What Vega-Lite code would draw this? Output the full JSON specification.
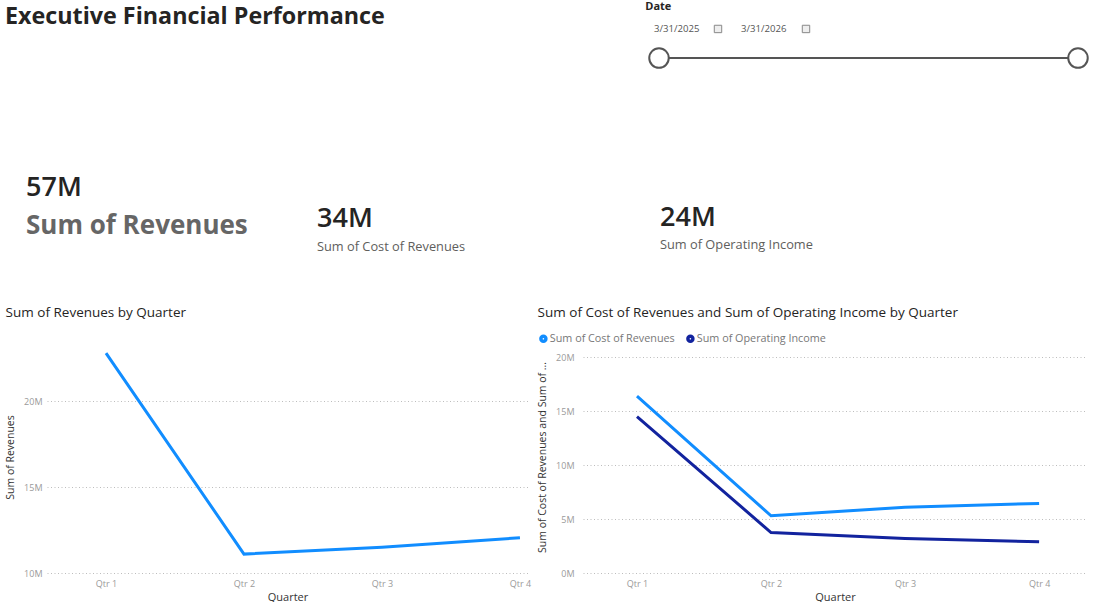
{
  "$schema": "https://vega.github.io/schema/vega-lite/v6.json",
  "background": "white",
  "padding": {"left": 5, "top": 1, "right": 0, "bottom": 0},
  "columns": 1,
  "align": "none",
  "spacing": 20,
  "resolve": {"scale": {"color": "independent"}, "legend": {"color": "independent"}},
  "config": {
    "view": {"stroke": null},
    "font": "Open Sans",
    "title": {"font": "Open Sans", "color": "#252423"},
    "axis": {
      "domain": false,
      "ticks": false,
      "labelFont": "Open Sans",
      "labelFontSize": 9,
      "labelColor": "#9a9a9a",
      "titleFont": "Open Sans",
      "titleFontWeight": "normal",
      "titleColor": "#333333",
      "gridColor": "#bdbdbd",
      "gridDash": [1, 2.5],
      "gridWidth": 1
    }
  },
  "datasets": {
    "quarters": [
      {"Quarter": "Qtr 1", "Revenues": 22800000, "Cost of Revenues": 16400000, "Operating Income": 14500000},
      {"Quarter": "Qtr 2", "Revenues": 11100000, "Cost of Revenues": 5300000, "Operating Income": 3750000},
      {"Quarter": "Qtr 3", "Revenues": 11500000, "Cost of Revenues": 6100000, "Operating Income": 3200000},
      {"Quarter": "Qtr 4", "Revenues": 12050000, "Cost of Revenues": 6450000, "Operating Income": 2900000}
    ],
    "dates": [{"Date": "2025-03-31"}, {"Date": "2026-03-31"}],
    "boxes": [{"Box": "start", "Label": "3/31/2025"}, {"Box": "end", "Label": "3/31/2026"}]
  },
  "concat": [
    {
      "spacing": 0,
      "hconcat": [
        {
          "width": 598,
          "height": 1,
          "title": {"text": "Executive Financial Performance", "orient": "bottom", "anchor": "start", "fontSize": 23.3, "fontWeight": "bold", "offset": -10, "dx": -42},
          "data": {"values": []},
          "mark": "text"
        },
        {
          "width": 445,
          "height": 57,
          "title": {"text": "Date", "anchor": "start", "fontSize": 11, "fontWeight": "bold", "offset": 3},
          "resolve": {"scale": {"x": "independent"}},
          "layer": [
            {
              "data": {"name": "dates"},
              "mark": {"type": "rule", "color": "#555555", "strokeWidth": 2},
              "encoding": {
                "x": {"aggregate": "min", "field": "Date", "type": "temporal", "scale": {"nice": false, "padding": 13}, "axis": null},
                "x2": {"aggregate": "max", "field": "Date"},
                "y": {"datum": "slider", "type": "nominal", "scale": {"type": "point", "domain": ["boxes", "slider"], "padding": 0.48}, "axis": null}
              }
            },
            {
              "data": {"name": "dates"},
              "mark": {"type": "point", "shape": "circle", "filled": true, "fill": "white", "stroke": "#555555", "strokeWidth": 2, "size": 380, "opacity": 1},
              "encoding": {
                "x": {"field": "Date", "type": "temporal", "scale": {"nice": false, "padding": 13}, "axis": null},
                "y": {"datum": "slider", "type": "nominal"}
              }
            },
            {
              "data": {"name": "boxes"},
              "mark": {"type": "text", "align": "left", "baseline": "middle", "fontSize": 9.6, "color": "#555555"},
              "encoding": {
                "x": {"field": "Box", "type": "nominal", "scale": {"type": "point", "domain": ["start", "end"], "range": [8, 95], "padding": 0}, "axis": null},
                "y": {"datum": "boxes", "type": "nominal"},
                "text": {"field": "Label"}
              }
            },
            {
              "data": {"name": "boxes"},
              "mark": {"type": "point", "shape": "square", "filled": true, "fill": "#eeeeee", "stroke": "#888888", "strokeWidth": 1, "size": 55, "opacity": 1},
              "encoding": {
                "x": {"field": "Box", "type": "nominal", "scale": {"type": "point", "domain": ["start", "end"], "range": [72, 160], "padding": 0}, "axis": null},
                "y": {"datum": "boxes", "type": "nominal"}
              }
            }
          ]
        }
      ]
    },
    {
      "spacing": 0,
      "hconcat": [
        {
          "width": 258,
          "height": 193,
          "layer": [
            {
              "data": {"name": "quarters"},
              "transform": [{"aggregate": [{"op": "sum", "field": "Revenues", "as": "TotalRevenues"}]}],
              "mark": {"type": "text", "align": "left", "baseline": "middle", "fontSize": 27, "fontWeight": 600, "color": "#252423"},
              "encoding": {
                "x": {"datum": "text", "type": "nominal", "scale": {"type": "point", "range": [-21, -21], "padding": 0}, "axis": null},
                "y": {"datum": "value", "type": "nominal", "scale": {"type": "point", "domain": ["value", "label"], "range": [96, 134], "padding": 0}, "axis": null},
                "text": {"field": "TotalRevenues", "type": "quantitative", "format": ".2s"}
              }
            },
            {
              "data": {"values": [{"Label": "Sum of Revenues"}]},
              "mark": {"type": "text", "align": "left", "baseline": "middle", "fontSize": 26, "fontWeight": "bold", "color": "#666666"},
              "encoding": {
                "x": {"datum": "text", "type": "nominal"},
                "y": {"datum": "label", "type": "nominal"},
                "text": {"field": "Label"}
              }
            }
          ]
        },
        {
          "width": 343,
          "height": 193,
          "layer": [
            {
              "data": {"name": "quarters"},
              "transform": [{"aggregate": [{"op": "sum", "field": "Cost of Revenues", "as": "TotalCost"}]}],
              "mark": {"type": "text", "align": "left", "baseline": "middle", "fontSize": 27, "fontWeight": 600, "color": "#252423"},
              "encoding": {
                "x": {"datum": "text", "type": "nominal", "scale": {"type": "point", "range": [12, 12], "padding": 0}, "axis": null},
                "y": {"datum": "value", "type": "nominal", "scale": {"type": "point", "domain": ["value", "label"], "range": [127, 155], "padding": 0}, "axis": null},
                "text": {"field": "TotalCost", "type": "quantitative", "format": ".2s"}
              }
            },
            {
              "data": {"values": [{"Label": "Sum of Cost of Revenues"}]},
              "mark": {"type": "text", "align": "left", "baseline": "middle", "fontSize": 12.8, "color": "#605e5c"},
              "encoding": {
                "x": {"datum": "text", "type": "nominal"},
                "y": {"datum": "label", "type": "nominal"},
                "text": {"field": "Label"}
              }
            }
          ]
        },
        {
          "width": 442,
          "height": 193,
          "layer": [
            {
              "data": {"name": "quarters"},
              "transform": [{"aggregate": [{"op": "sum", "field": "Operating Income", "as": "TotalOperatingIncome"}]}],
              "mark": {"type": "text", "align": "left", "baseline": "middle", "fontSize": 27, "fontWeight": 600, "color": "#252423"},
              "encoding": {
                "x": {"datum": "text", "type": "nominal", "scale": {"type": "point", "range": [12, 12], "padding": 0}, "axis": null},
                "y": {"datum": "value", "type": "nominal", "scale": {"type": "point", "domain": ["value", "label"], "range": [126, 153], "padding": 0}, "axis": null},
                "text": {"field": "TotalOperatingIncome", "type": "quantitative", "format": ".2s"}
              }
            },
            {
              "data": {"values": [{"Label": "Sum of Operating Income"}]},
              "mark": {"type": "text", "align": "left", "baseline": "middle", "fontSize": 12.8, "color": "#605e5c"},
              "encoding": {
                "x": {"datum": "text", "type": "nominal"},
                "y": {"datum": "label", "type": "nominal"},
                "text": {"field": "Label"}
              }
            }
          ]
        }
      ]
    },
    {
      "spacing": 6,
      "resolve": {"scale": {"color": "independent"}, "legend": {"color": "independent"}},
      "hconcat": [
        {
          "width": 481,
          "height": 232,
          "title": {"text": "Sum of Revenues by Quarter", "anchor": "start", "fontSize": 13.5, "fontWeight": "normal", "offset": 22},
          "data": {"name": "quarters"},
          "mark": {"type": "line", "color": "#118DFF", "strokeWidth": 3},
          "encoding": {
            "x": {"field": "Quarter", "type": "nominal", "sort": ["Qtr 1", "Qtr 2", "Qtr 3", "Qtr 4"], "scale": {"type": "point", "padding": 0.243, "align": 0.88}, "axis": {"title": "Quarter", "labelAngle": 0, "labelPadding": 6, "titleFontSize": 11, "titlePadding": 3, "grid": false}},
            "y": {"field": "Revenues", "type": "quantitative", "scale": {"domain": [10000000, 23500000], "nice": false, "zero": false}, "axis": {"title": "Sum of Revenues", "values": [10000000, 15000000, 20000000], "labelExpr": "datum.value / 1000000 + 'M'", "titleFontSize": 10.5, "titlePadding": 8, "labelPadding": 5}}
          }
        },
        {
          "width": 504,
          "height": 232,
          "title": {"text": "Sum of Cost of Revenues and Sum of Operating Income by Quarter", "anchor": "start", "fontSize": 13.5, "fontWeight": "normal", "offset": 14},
          "data": {"name": "quarters"},
          "transform": [{"fold": ["Cost of Revenues", "Operating Income"], "as": ["Measure", "Value"]}],
          "mark": {"type": "line", "strokeWidth": 3},
          "encoding": {
            "x": {"field": "Quarter", "type": "nominal", "sort": ["Qtr 1", "Qtr 2", "Qtr 3", "Qtr 4"], "scale": {"type": "point", "padding": 0.38, "align": 0.53}, "axis": {"title": "Quarter", "labelAngle": 0, "labelPadding": 6, "titleFontSize": 11, "titlePadding": 3, "grid": false}},
            "y": {"field": "Value", "type": "quantitative", "scale": {"domain": [0, 21500000], "nice": false}, "axis": {"title": "Sum of Cost of Revenues and Sum of Operating Income", "titleLimit": 198, "values": [0, 5000000, 10000000, 15000000, 20000000], "labelExpr": "datum.value / 1000000 + 'M'", "titleFontSize": 10.5, "titlePadding": 8, "labelPadding": 9}},
            "color": {
              "field": "Measure",
              "type": "nominal",
              "scale": {"domain": ["Cost of Revenues", "Operating Income"], "range": ["#118DFF", "#12239E"]},
              "legend": {
                "orient": "none",
                "legendX": -45,
                "legendY": -8,
                "direction": "horizontal",
                "title": null,
                "symbolType": "circle",
                "symbolSize": 12,
                "symbolStrokeWidth": 5,
                "labelFontSize": 10.8,
                "labelColor": "#777777",
                "labelOffset": 1,
                "columnPadding": 3,
                "labelExpr": "'Sum of ' + datum.label"
              }
            }
          }
        }
      ]
    }
  ]
}
